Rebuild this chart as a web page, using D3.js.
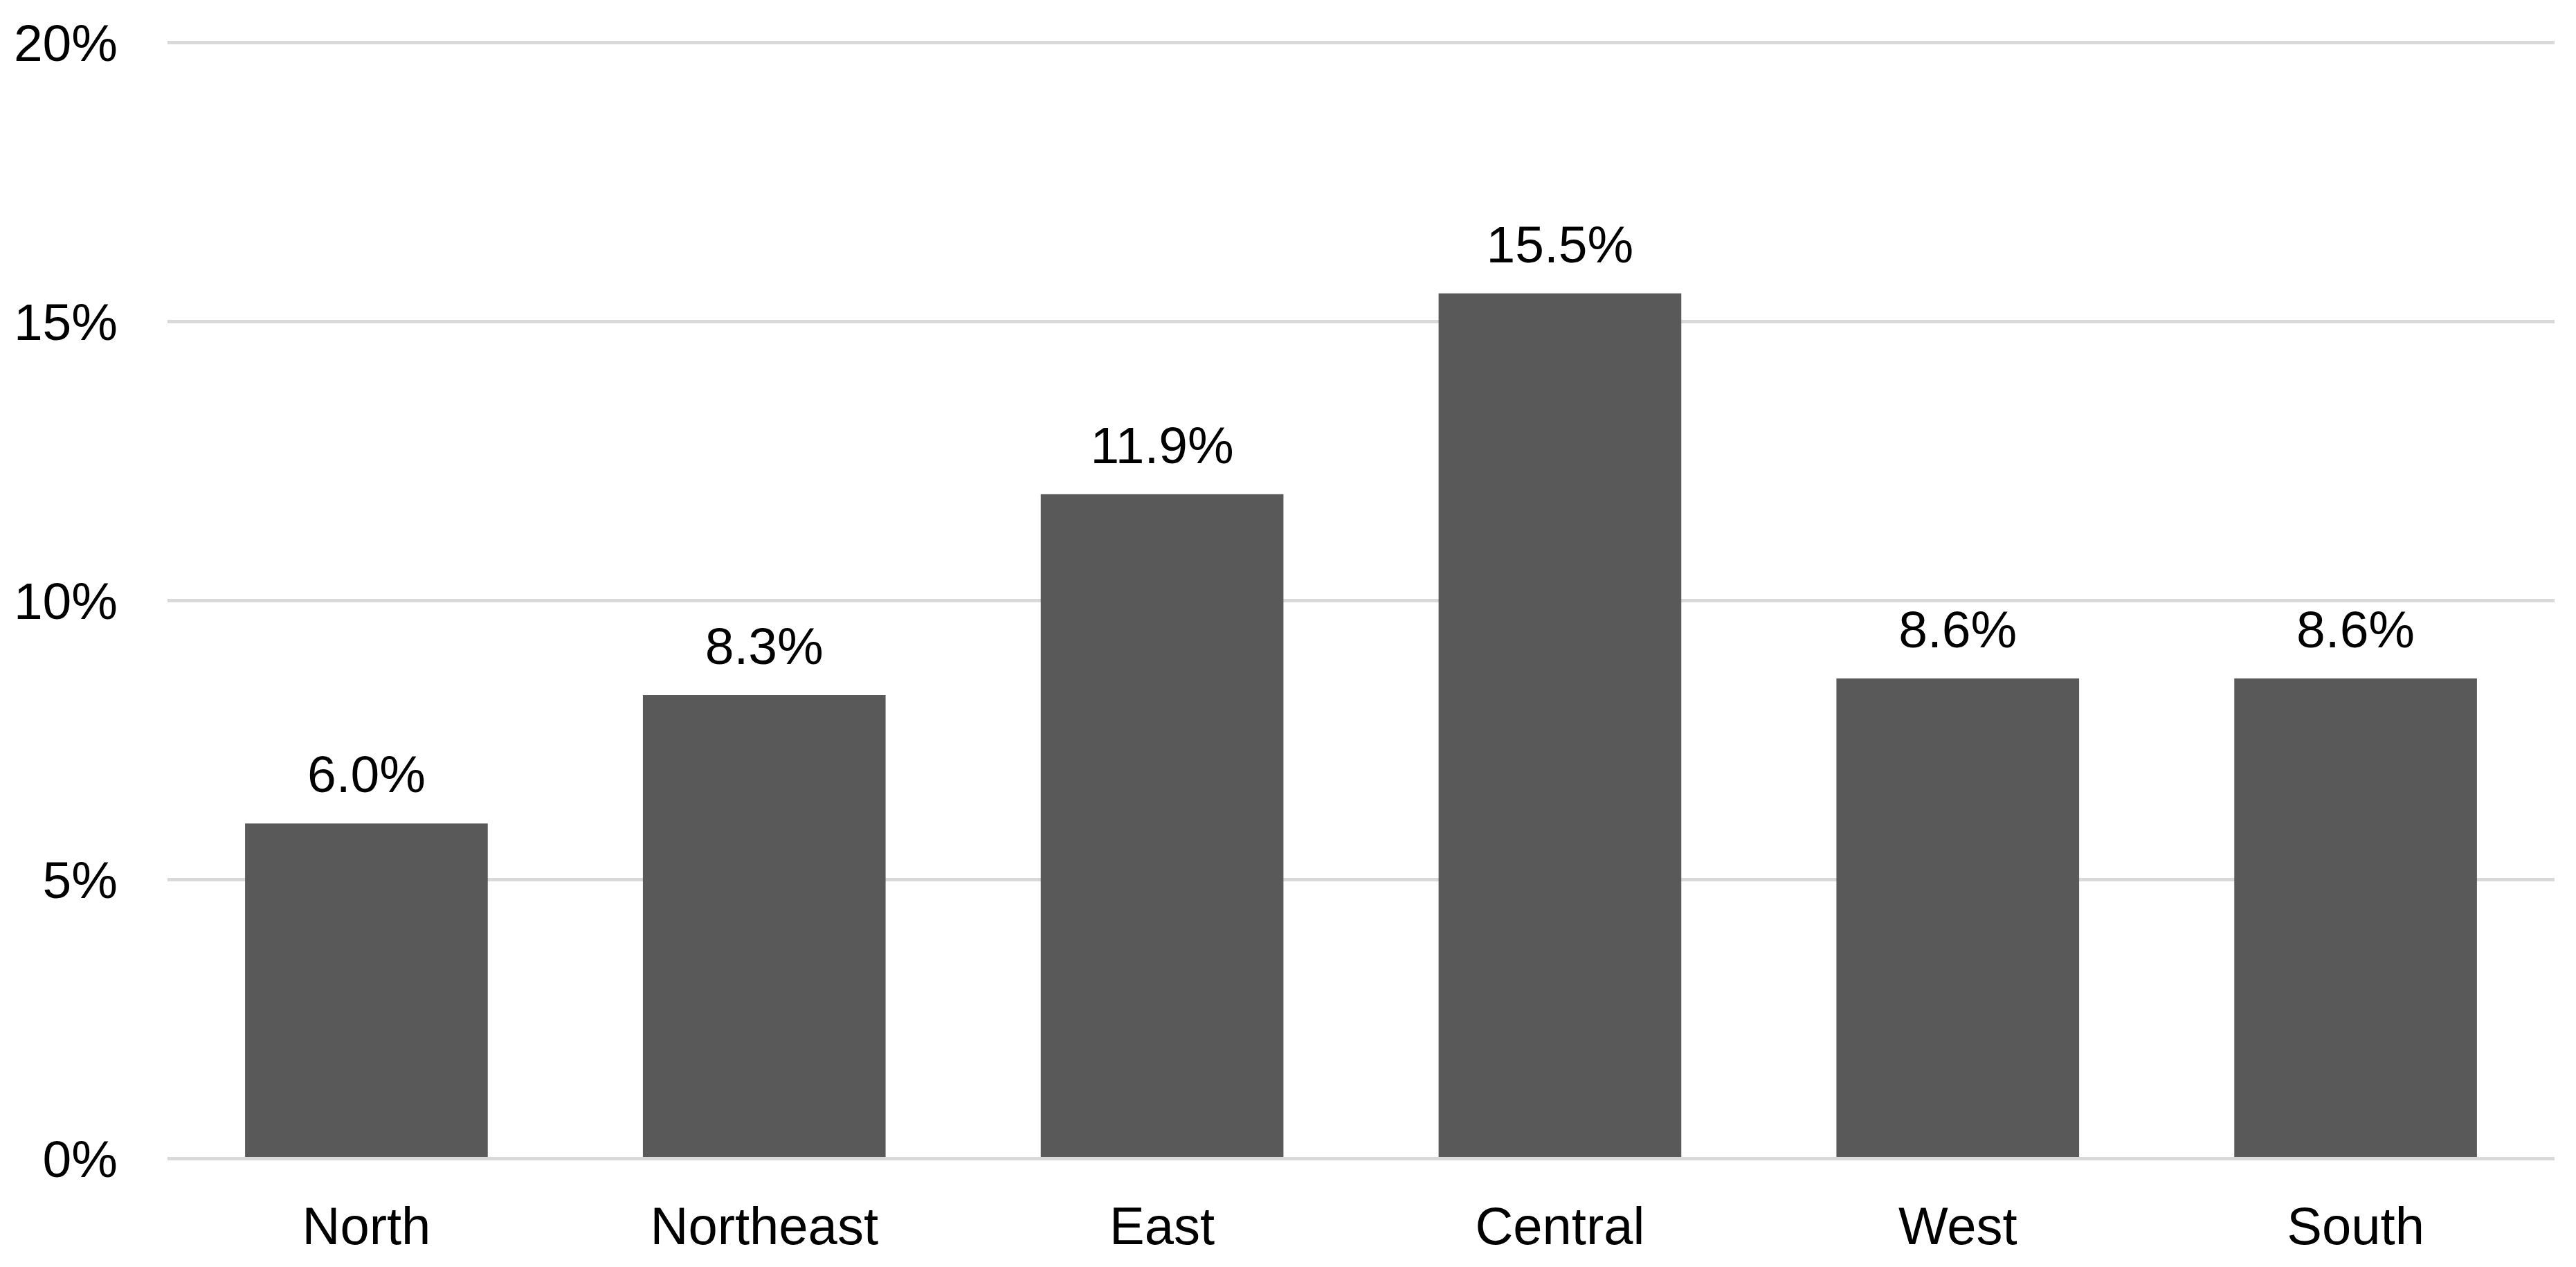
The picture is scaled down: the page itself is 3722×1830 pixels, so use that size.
<!DOCTYPE html>
<html>
<head>
<meta charset="utf-8">
<script src="https://cdn.jsdelivr.net/npm/d3@7"></script>
<style>
  html, body { margin: 0; padding: 0; background: #ffffff; }
  svg { display: block; }
  text { font-family: "Liberation Sans", Arial, sans-serif; fill: #000; }
</style>
</head>
<body>
<svg id="chart" width="3722" height="1830"></svg>
<script>
const categories = ["North", "Northeast", "East", "Central", "West", "South"];
const values = [6.0, 8.3, 11.9, 15.5, 8.6, 8.6];
const yTicks = [0, 5, 10, 15, 20];
const yTickLabels = ["0%", "5%", "10%", "15%", "20%"];

const svg = d3.select("#chart");
const margin = { left: 242, right: 31, top: 61, bottom: 157 };
const W = 3722, H = 1830;

const x = d3.scaleBand()
  .domain(categories)
  .range([margin.left, W - margin.right])
  .paddingInner(0.39)
  .paddingOuter(0.195);

const y = d3.scaleLinear()
  .domain([0, 20])
  .range([H - margin.bottom, margin.top]);

// gridlines
const yAxis = d3.axisLeft(y)
  .tickValues(yTicks)
  .tickSize(-(W - margin.left - margin.right))
  .tickFormat((d, i) => yTickLabels[i]);

const gy = svg.append("g")
  .attr("transform", `translate(${margin.left},0)`)
  .call(yAxis);
gy.select(".domain").remove();
gy.selectAll(".tick line")
  .attr("stroke", "#d9d9d9")
  .attr("stroke-width", 5);
gy.selectAll(".tick text")
  .attr("x", -72)
  .attr("dy", "0.35em")
  .style("font-size", "75px")
  .style("font-family", "'Liberation Sans', Arial, sans-serif")
  .attr("fill", "#000");

// bars
svg.append("g").selectAll("rect")
  .data(values)
  .join("rect")
  .attr("x", (d, i) => x(categories[i]))
  .attr("width", x.bandwidth())
  .attr("y", d => y(d))
  .attr("height", d => y(0) - y(d) - 2)
  .attr("fill", "#595959");

// data labels
svg.append("g").selectAll("text")
  .data(values)
  .join("text")
  .attr("x", (d, i) => x(categories[i]) + x.bandwidth() / 2)
  .attr("y", d => y(d) - 45)
  .attr("text-anchor", "middle")
  .style("font-size", "75px")
  .text(d => d.toFixed(1) + "%");

// x axis labels
const xAxis = d3.axisBottom(x).tickSize(0).tickPadding(0);
const gx = svg.append("g")
  .attr("transform", `translate(0,${y(0)})`)
  .call(xAxis);
gx.select(".domain").remove();
gx.selectAll(".tick text")
  .attr("y", 124)
  .attr("dy", 0)
  .style("font-size", "76px")
  .style("font-family", "'Liberation Sans', Arial, sans-serif")
  .attr("fill", "#000");
</script>
</body>
</html>
